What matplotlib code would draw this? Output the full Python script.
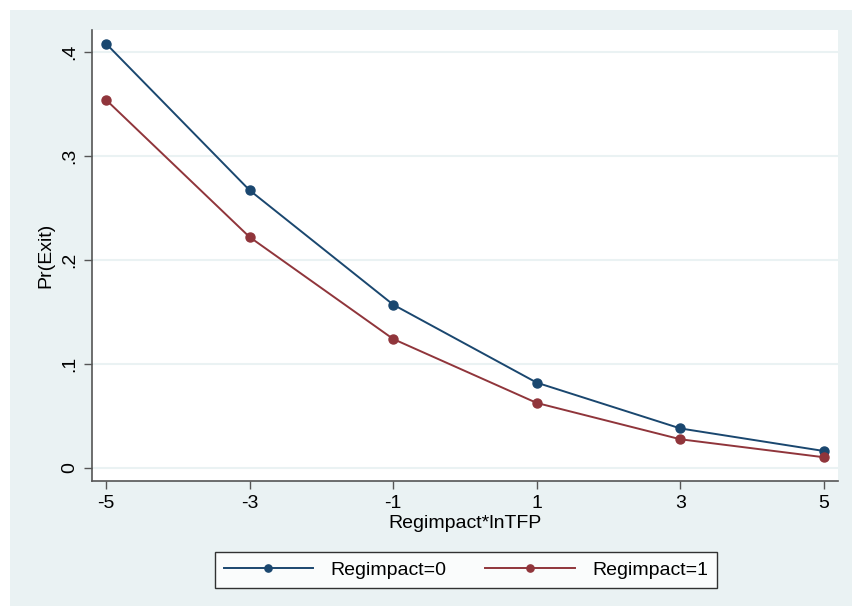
import numpy as np
import matplotlib.pyplot as plt
from matplotlib.patches import Rectangle

plt.rcParams['font.family'] = ['Liberation Sans', 'DejaVu Sans']

# 数据
x_vals = [-5, -3, -1, 1, 3, 5]
regim0 = [0.408, 0.267, 0.157, 0.082, 0.038, 0.0163]
regim1 = [0.354, 0.222, 0.124, 0.0625, 0.0276, 0.0103]
y_ticks = [0, 0.1, 0.2, 0.3, 0.4]
y_ticklabels = ['0', '.1', '.2', '.3', '.4']

c_blue = '#1a476f'
c_red = '#90353b'
bg = '#eaf2f3'

fig = plt.figure(figsize=(8.52, 6.09), dpi=100, facecolor='white')
# 外层背景面板（放在坐标轴下面）
fig.add_artist(Rectangle((10 / 852, 3 / 609), 842 / 852, 596 / 609,
                         transform=fig.transFigure, facecolor=bg,
                         edgecolor='none', zorder=-10))

ax = fig.add_axes([92 / 852, 1 - 481 / 609, 746 / 852, 451 / 609])
ax.set_facecolor('white')

ax.plot(x_vals, regim0, '-o', color=c_blue, lw=1.4, ms=6.5, label='Regimpact=0', zorder=3)
ax.plot(x_vals, regim1, '-o', color=c_red, lw=1.4, ms=6.5, label='Regimpact=1', zorder=3)

ax.set_xlim(-5.194, 5.194)
ax.set_ylim(-0.0125, 0.421)
ax.set_xticks(x_vals)
ax.set_xticklabels([str(v) for v in x_vals])
ax.set_yticks(y_ticks)
ax.set_yticklabels(y_ticklabels, rotation=90, va='center')

ax.grid(axis='y', color=bg, lw=1.5)
ax.set_axisbelow(True)

for s in ['top', 'right']:
    ax.spines[s].set_visible(False)
for s in ['left', 'bottom']:
    ax.spines[s].set_color('#555555')
    ax.spines[s].set_linewidth(1.2)

ax.tick_params(axis='both', direction='out', length=6, width=1.0, color='#555555',
               labelsize=14, pad=4)

ax.set_xlabel('Regimpact*lnTFP', fontsize=14, labelpad=2)
ax.set_ylabel('Pr(Exit)', fontsize=14, labelpad=5)

leg = ax.legend(loc='center', bbox_to_anchor=(466 / 852, 1 - 570 / 609),
                bbox_transform=fig.transFigure, ncol=2, fontsize=14,
                frameon=True, fancybox=False, edgecolor='black',
                handlelength=4.6, markerscale=0.8, columnspacing=2.0,
                handletextpad=0.9, borderpad=0.45)
leg.get_frame().set_linewidth(1.0)

fig.savefig('out.png', dpi=100, facecolor=fig.get_facecolor())
